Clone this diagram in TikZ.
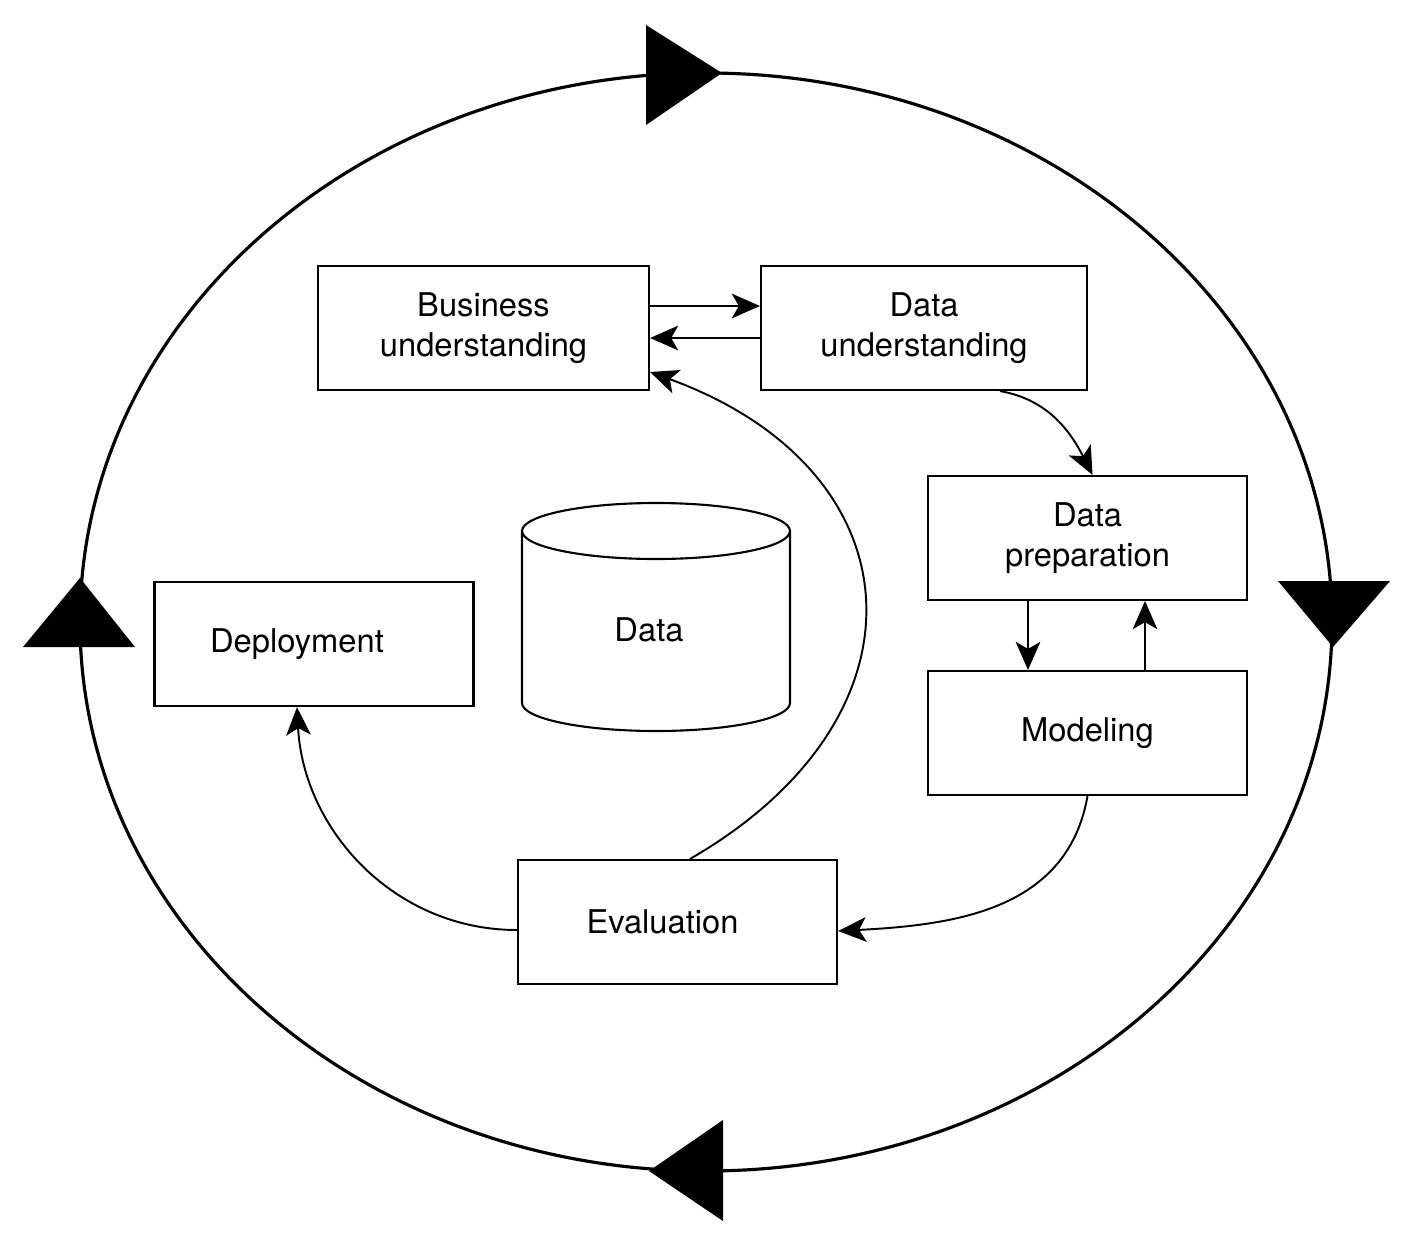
\documentclass[tikz,border=0pt]{standalone}
\usepackage{fontspec}
\setmainfont{TeX Gyre Heros}
\usetikzlibrary{arrows.meta}

\begin{document}
\begin{tikzpicture}[
  txt/.style={font=\fontsize{9.3}{11.4}\selectfont},
  box/.style={txt, draw, line width=0.6pt, minimum width=3.19cm, minimum height=1.24cm, align=center, inner sep=0pt},
  flow/.style={line width=0.55pt, -{Stealth[length=8pt,width=7pt,inset=2pt]}}]
\def\outerring{(7.06,6.21) ellipse (6.26 and 5.49)}
\useasboundingbox (0,0) rectangle (14.24,12.43);

\draw[line width=0.9pt] \outerring;
% heads on the ring
\fill (6.46,12.18) -- (7.22,11.70) -- (6.46,11.18) -- cycle;
\fill (12.78,6.62) -- (13.33,5.96) -- (13.90,6.62) -- cycle;
\fill (7.23,1.23) -- (6.49,0.72) -- (7.23,0.22) -- cycle;
\fill (0.23,5.96) -- (0.80,6.65) -- (1.35,5.96) -- cycle;

\node[box, minimum width=3.31cm] (bu) at (4.835,9.15) {Business\\understanding};
\node[box, minimum width=3.26cm] (du) at (9.24,9.15) {Data\\understanding};
\node[box] (dp) at (10.875,7.05) {Data\\preparation};
\node[box] (mod) at (10.875,5.10) {Modeling};
\node[box] (eval) at (6.775,3.21) {Evaluation\hspace*{0.30cm}};
\node[box] (dep) at (3.14,5.99) {Deployment\hspace*{0.34cm}};

% data store
\draw[line width=0.6pt] (6.56,7.12) ellipse (1.34 and 0.28);
\draw[line width=0.6pt] (5.22,7.12) -- (5.22,5.40) arc[start angle=180, end angle=360, x radius=1.34, y radius=0.28] -- (7.90,7.12);
\node[txt] (data) at (6.49,6.13) {Data};

\draw[flow] ([yshift=0.22cm]bu.east) -- ([yshift=0.22cm]bu.east -| du.west);
\draw[flow] ([yshift=-0.10cm]du.west) -- ([yshift=-0.10cm]du.west -| bu.east);
\draw[flow] ([xshift=0.76cm]du.south) to[out=-10, in=117] ([xshift=0.05cm]dp.north);
\draw[flow] ([xshift=-0.595cm]dp.south) -- ([xshift=-0.595cm]dp.south |- mod.north);
\draw[flow] ([xshift=0.575cm]mod.north) -- ([xshift=0.575cm]mod.north |- dp.south);
\draw[flow] (mod.south) to[out=-100, in=3, looseness=1.05] ([yshift=-0.09cm]eval.east);
\draw[flow] ([xshift=0.125cm]eval.north) to[out=30, in=-20, looseness=1.5] ([yshift=-0.44cm]bu.east);
\draw[flow] ([yshift=-0.08cm]eval.west) to[out=180, in=-87] ([xshift=-0.17cm]dep.south);
\end{tikzpicture}
\end{document}
